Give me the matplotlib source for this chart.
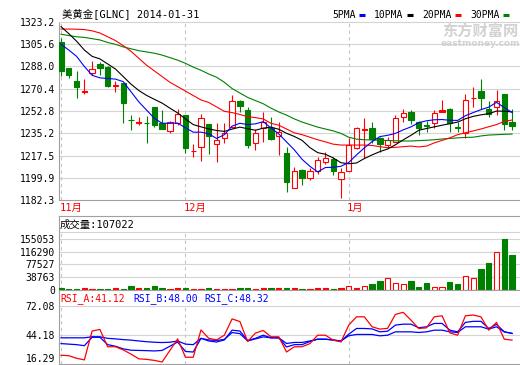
# 美黄金 GLNC 日K线 + 成交量 + RSI 的复刻
import numpy as np
import matplotlib.pyplot as plt
from matplotlib.lines import Line2D

plt.rcParams['font.family'] = ['DejaVu Sans Mono', 'Noto Sans CJK SC']

W, H = 520, 365

# 日K (2013-11 ~ 2014-01-31)
open_ = [1307.1, 1286.5, 1276.5, 1267.5, 1283.1, 1289.7, 1287.6, 1272.6, 1274.7, 1245.9,
         1243.6, 1243.3, 1255.9, 1243.5, 1237.2, 1243.0, 1249.6, 1220.9, 1224.5, 1242.5,
         1226.4, 1231.1, 1240.3, 1260.7, 1253.5, 1227.2, 1239.6, 1239.6, 1233.2, 1219.3,
         1192.0, 1206.0, 1200.0, 1205.5, 1212.4, 1214.8, 1198.7, 1205.5, 1223.2, 1237.5,
         1239.1, 1231.1, 1226.1, 1228.5, 1248.3, 1251.7, 1243.8, 1241.8, 1243.0, 1252.3,
         1254.1, 1240.0, 1235.1, 1262.8, 1268.6, 1254.3, 1255.9, 1266.2, 1244.3]
close = [1284.7, 1281.2, 1272.0, 1268.5, 1285.8, 1287.0, 1272.8, 1273.1, 1259.3, 1245.6,
         1244.0, 1243.0, 1241.7, 1238.5, 1243.8, 1250.1, 1223.7, 1221.3, 1247.0, 1233.2,
         1229.8, 1235.1, 1260.7, 1256.9, 1225.8, 1235.3, 1244.3, 1230.6, 1236.4, 1196.3,
         1205.3, 1199.5, 1205.3, 1213.7, 1215.3, 1205.3, 1204.2, 1225.8, 1239.1, 1238.5,
         1230.6, 1226.9, 1229.8, 1247.5, 1251.2, 1245.6, 1239.1, 1240.5, 1250.9, 1253.3,
         1243.0, 1239.6, 1261.2, 1263.3, 1262.8, 1250.4, 1260.7, 1242.7, 1241.1]
high = [1310.3, 1286.5, 1284.4, 1277.8, 1292.3, 1291.8, 1288.4, 1276.5, 1275.0, 1249.6,
        1247.8, 1248.8, 1256.0, 1253.5, 1244.5, 1254.3, 1249.6, 1226.4, 1250.4, 1242.5,
        1243.0, 1243.0, 1265.4, 1261.5, 1256.2, 1238.3, 1251.7, 1248.3, 1243.8, 1224.5,
        1208.7, 1206.5, 1207.4, 1216.6, 1220.1, 1216.6, 1207.4, 1231.6, 1240.3, 1247.0,
        1243.8, 1232.0, 1232.4, 1249.6, 1254.3, 1253.5, 1244.8, 1244.8, 1253.5, 1261.5,
        1254.9, 1244.3, 1266.2, 1272.0, 1278.1, 1260.7, 1269.4, 1266.5, 1254.1]
low = [1280.5, 1279.1, 1262.8, 1266.2, 1281.2, 1281.2, 1272.0, 1268.0, 1243.0, 1237.7,
       1241.7, 1227.7, 1240.3, 1239.0, 1235.1, 1242.0, 1219.3, 1216.6, 1213.2, 1218.5,
       1212.6, 1227.2, 1239.1, 1251.7, 1223.7, 1221.9, 1228.5, 1230.0, 1218.0, 1188.9,
       1191.5, 1194.2, 1198.1, 1203.1, 1211.0, 1202.1, 1184.1, 1205.0, 1223.0, 1215.3,
       1227.2, 1220.1, 1223.2, 1228.0, 1243.8, 1242.2, 1233.7, 1236.4, 1239.1, 1252.0,
       1235.9, 1235.9, 1231.1, 1256.2, 1254.3, 1248.3, 1249.6, 1237.7, 1237.7]

ma5 = [1305.5, 1301, 1296, 1288, 1281, 1279, 1278.5, 1278, 1276, 1268,
       1260, 1253.5, 1247, 1243, 1243, 1243.2, 1239.5, 1236, 1236, 1234.7,
       1231, 1234, 1240.8, 1243, 1242, 1242.6, 1244.3, 1239.3, 1234.6, 1228.3,
       1222, 1214.5, 1209, 1204.5, 1208, 1208.2, 1209, 1212, 1218, 1223.5,
       1228.5, 1232.5, 1233.5, 1235, 1237.8, 1240.2, 1243.5, 1245, 1245.8, 1246,
       1245.4, 1245.3, 1249, 1251.5, 1253.8, 1255.8, 1259.6, 1255.5, 1251.6]
ma10 = [1319.5, 1314, 1308, 1301, 1296, 1294, 1290, 1286, 1280, 1274,
        1269, 1265.1, 1262, 1259, 1255, 1251.2, 1246.5, 1242, 1240.2, 1238.6,
        1237.3, 1236.6, 1238.4, 1240, 1238.7, 1237.5, 1239.2, 1240, 1238.3, 1235.1,
        1232.6, 1229.5, 1223.8, 1219.8, 1218.5, 1215.6, 1211.8, 1211, 1211.6, 1215.1,
        1218, 1220.6, 1222.7, 1226, 1229.9, 1233.5, 1237.5, 1238.9, 1240.2, 1241.5,
        1242.7, 1244, 1246.6, 1248.5, 1249.7, 1250.6, 1252.7, 1252.6, 1252]
ma20 = [1317.6, 1317.6, 1317.5, 1317.2, 1316.2, 1314.5, 1311.5, 1308.5, 1304.5, 1300,
        1294.5, 1289, 1284.5, 1280, 1275.5, 1272, 1268.5, 1265, 1261.5, 1259.5,
        1256, 1252.5, 1251.5, 1250, 1248.3, 1247.5, 1246.5, 1243, 1241.5, 1238.5,
        1235.5, 1234, 1232, 1230, 1228.3, 1226.5, 1225.8, 1225.8, 1225.8, 1225.8,
        1225.5, 1224.5, 1223.7, 1224, 1224.5, 1225, 1224.3, 1225, 1227.5, 1229.5,
        1231.5, 1234, 1235.5, 1237, 1238.5, 1240.3, 1242, 1244.5, 1245.6]
ma30 = [1313.5, 1312.5, 1311.5, 1311, 1310, 1309, 1307, 1305.5, 1303.5, 1302,
        1300.5, 1299.5, 1298.5, 1297, 1295, 1293, 1290.5, 1287.5, 1285, 1282,
        1279.5, 1275.5, 1270.5, 1267, 1263.5, 1261, 1258.5, 1255, 1252, 1249.5,
        1246.5, 1244, 1242, 1240, 1238.5, 1237, 1235, 1232, 1230.5, 1230,
        1229.8, 1229.6, 1229.4, 1229.2, 1229, 1229, 1229.3, 1229.6, 1230, 1230.6,
        1231, 1231.5, 1231.8, 1232, 1233, 1233.7, 1234, 1234.3, 1234.5]

volume = [6000, 3000, 3000, 5500, 3000, 3000, 3000, 5500, 3000, 12000,
          5500, 5000, 12000, 5000, 3000, 5000, 5500, 3000, 3500, 5500,
          4500, 3000, 3500, 5500, 5500, 3000, 5000, 5000, 5000, 5000,
          5000, 3000, 2000, 5000, 5000, 3000, 5000, 11000, 5000, 11000,
          18300, 26500, 35700, 20400, 17400, 27500, 9200, 21400, 8200, 8200,
          24400, 18300, 41800, 35700, 64000, 82300, 115000, 155053, 107022]

rsi_a = [24.9, 24.5, 22, 20.5, 48, 49.5, 33, 33, 30, 26,
         21.5, 21, 20, 18.5, 29.5, 40.5, 23, 23, 49, 41,
         39.5, 44, 59.5, 57, 38, 46, 48.5, 42.5, 42.5, 28,
         33, 33, 36, 44, 44, 39.3, 37.6, 53.6, 61.5, 61.5,
         52, 49.8, 50.5, 63.8, 65.8, 58.4, 50.4, 51, 61.5, 62.5,
         46.2, 44, 62.5, 63.2, 61.5, 48.8, 56.2, 40.2, 39.3]
rsi_b = [36, 35.5, 35, 34, 42, 42, 35, 33.5, 31, 29.7,
         29.5, 29.3, 29, 29.5, 33.5, 37.5, 28.5, 28, 41, 38.5,
         37.5, 39.5, 48.8, 48, 39, 41, 44, 41.5, 41.5, 32.8,
         35, 35, 38, 40.2, 40.2, 39.3, 38.3, 45, 50.4, 50.4,
         50, 47.2, 47.8, 53.6, 54.5, 54.5, 51.1, 52, 55.2, 55.2,
         48.8, 47.2, 56.2, 57.2, 57.2, 50.4, 54.3, 47.2, 45.7]
rsi_c = [41.5, 41.5, 41.5, 41.5, 42.5, 42.5, 41, 40.5, 39.8, 39.3,
         38.5, 37.8, 37.3, 37, 37.3, 38.5, 35.5, 35, 41, 39.5,
         39, 40, 46.5, 45.5, 38.5, 40.5, 42.4, 41.5, 41.5, 36.1,
         37.1, 37.1, 38.5, 40.2, 40.2, 39.5, 38.5, 43.5, 44.7, 44.7,
         44.7, 43.4, 44, 47.2, 47.2, 47.2, 46.6, 47.2, 48.8, 48.8,
         47.2, 46.6, 52, 52, 52, 49.8, 52, 47.2, 45.7]

price_ticks = ['1182.3', '1199.9', '1217.5', '1235.2', '1252.8', '1270.4', '1288.0', '1305.6', '1323.2']
vol_ticks = [0, 38763, 77527, 116290, 155053]
rsi_ticks = ['16.29', '44.18', '72.08']
month_idx = [0, 16, 37]
month_names = ['11月', '12月', '1月']

RED = '#ff0000'
GREEN = '#008000'
BLUE = '#0000ff'
GRID = '#d4d4d4'
FRAME = '#a0a0a0'
DASH = '#c4c4c4'


def px_axes(fig, x0, y0, x1, y1):
    return fig.add_axes([x0 / W, 1 - y1 / H, (x1 - x0) / W, (y1 - y0) / H])


def px_text(fig, x, y, s, **kw):
    fig.text(x / W, 1 - y / H, s, **kw)


def style_axes(ax, ticks, labels):
    ax.set_xlim(-0.26, 59.15)
    ax.set_xticks([])
    ax.set_yticks(ticks)
    ax.set_yticklabels(labels)
    ax.tick_params(axis='y', length=0, pad=3, labelsize=7)
    for s in ['left', 'bottom', 'top']:
        ax.spines[s].set_color(FRAME)
        ax.spines[s].set_linewidth(0.8)
    ax.spines['right'].set_visible(False)


def main():
    fig = plt.figure(figsize=(W / 100, H / 100), dpi=100)
    x = np.arange(len(close))

    # ---- K线 ----
    ax = px_axes(fig, 59, 22, 521, 200)
    pvals = [float(t) for t in price_ticks]
    ax.set_ylim(pvals[0], pvals[-1])
    style_axes(ax, pvals, price_ticks)
    ax.spines['top'].set_color(GRID)
    for v in pvals[1:-1]:
        ax.axhline(v, color=GRID, lw=0.8, zorder=0)
    for m in month_idx:
        ax.axvline(m, color=DASH, lw=0.8, ls=(0, (3, 3)), zorder=0)

    for i in x:
        o, c, h, l = open_[i], close[i], high[i], low[i]
        up = c >= o
        col = RED if up else GREEN
        lo_b, hi_b = min(o, c), max(o, c)
        ax.vlines(i, l, lo_b, color=col, lw=0.8, zorder=2)
        ax.vlines(i, hi_b, h, color=col, lw=0.8, zorder=2)
        ax.bar(i, max(hi_b - lo_b, 0.15), bottom=lo_b, width=0.68,
               facecolor='white' if up and hi_b - lo_b > 1.2 else col,
               edgecolor=col, lw=0.8, zorder=3)

    ax.plot(x, ma30, color=GREEN, lw=0.8, zorder=4)
    ax.plot(x, ma20, color=RED, lw=0.8, zorder=4)
    ax.plot(x, ma10, color='black', lw=0.8, zorder=4)
    ax.plot(x, ma5, color=BLUE, lw=0.8, zorder=4)

    # ---- 成交量 ----
    axv = px_axes(fig, 59, 216, 521, 290)
    vtop = 155053 * 74 / 51
    axv.set_ylim(0, vtop)
    style_axes(axv, vol_ticks, [str(v) for v in vol_ticks])
    sep = 155053 * 58 / 51
    axv.axhline(sep, color=GRID, lw=0.8, zorder=0)
    for v in vol_ticks[1:]:
        axv.axhline(v, color=GRID, lw=0.8, zorder=0)
    for m in month_idx:
        axv.vlines(m, 0, sep, color=DASH, lw=0.8, ls=(0, (3, 3)), zorder=0)
    for i in x:
        up = close[i] >= open_[i]
        col = RED if up else GREEN
        axv.bar(i, volume[i], width=0.68, facecolor='white' if up and volume[i] > 8000 else col,
                edgecolor=col, lw=0.8, zorder=3)

    # ---- RSI ----
    axr = px_axes(fig, 59, 290, 521, 364.3)
    rvals = [float(t) for t in rsi_ticks]
    axr.set_ylim(16.29, 87.03)
    style_axes(axr, rvals, rsi_ticks)
    axr.yaxis.get_ticklabels()[0].set_va('bottom')
    for v in rvals[1:]:
        axr.axhline(v, color=GRID, lw=0.8, zorder=0)
    for m in month_idx:
        axr.vlines(m, 16.29, 72.08, color=DASH, lw=0.8, ls=(0, (3, 3)), zorder=0)
    axr.plot(x, rsi_c, color=BLUE, lw=0.9)
    axr.plot(x, rsi_b, color=BLUE, lw=0.9)
    axr.plot(x, rsi_a, color=RED, lw=0.9)

    # ---- 文字 ----
    px_text(fig, 62, 14, '美黄金[GLNC] 2014-01-31', fontsize=7.5, va='center')
    legend = [('5PMA', 332, 359, BLUE), ('10PMA', 374, 407, 'black'),
              ('20PMA', 422, 455, RED), ('30PMA', 470, 503, GREEN)]
    for name, tx, lx, col in legend:
        px_text(fig, tx, 14.5, name, fontsize=7, va='center')
        fig.add_artist(Line2D([lx / W, (lx + 6) / W], [1 - 15 / H, 1 - 15 / H],
                              color=col, lw=2.2, solid_capstyle='butt'))
    px_text(fig, 480, 31, '东方财富网', fontsize=11, fontweight='bold', color='#d2d2d2',
            ha='center', va='center', family='Noto Sans CJK SC')
    px_text(fig, 480, 43, 'eastmoney.com', fontsize=6.5, fontweight='bold', color='#d2d2d2',
            ha='center', va='center', family='DejaVu Sans')
    for m, name in zip(month_idx, month_names):
        px_text(fig, 61 + 7.76 * m - 1, 208, name, fontsize=7.5, color=RED, va='center')
    px_text(fig, 60, 225, '成交量:107022', fontsize=7.5, va='center')
    px_text(fig, 60, 299, 'RSI_A:41.12', fontsize=7, color=RED, va='center')
    px_text(fig, 133, 299, 'RSI_B:48.00', fontsize=7, color=BLUE, va='center')
    px_text(fig, 204, 299, 'RSI_C:48.32', fontsize=7, color=BLUE, va='center')

    plt.savefig('out.png', dpi=100)


if __name__ == "__main__":
    main()
